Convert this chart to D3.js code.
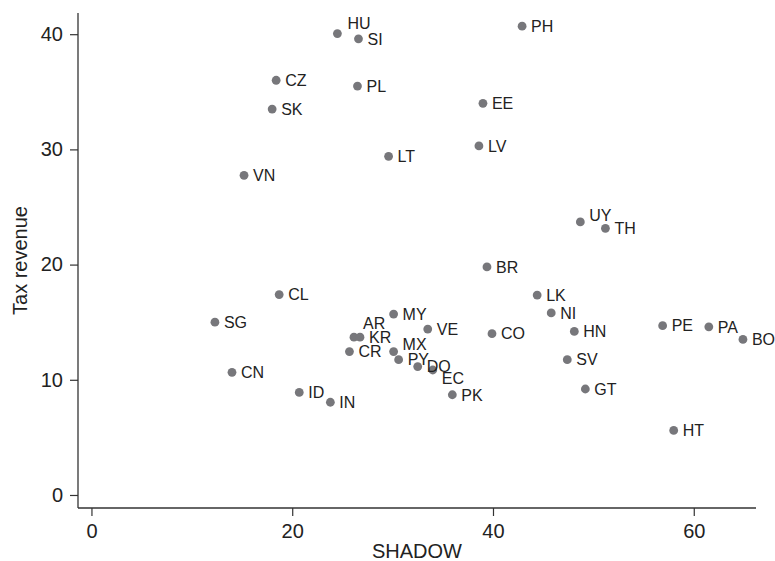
<!DOCTYPE html>
<html>
<head>
<meta charset="utf-8">
<script src="https://cdn.jsdelivr.net/npm/d3@7"></script>
<style>
  body { margin: 0; background: #fff; }
  svg { display: block; font-family: "Liberation Sans", Arial, sans-serif; }
</style>
</head>
<body>
<svg id="chart" width="775" height="561"></svg>
<script>
// country codes, shadow economy (% GDP) and tax revenue (% GDP)
const countries = ["HU","SI","CZ","PL","SK","VN","LT","PH","EE","LV","UY","TH","BR",
  "CL","SG","AR","KR","CR","CN","ID","IN","MY","VE","CO","MX","PY","DO","EC","PK",
  "LK","NI","HN","SV","GT","PE","PA","BO","HT"];
const shadow = [24.5,26.6,18.4,26.5,18.0,15.2,29.6,42.9,39.0,38.6,48.7,51.2,39.4,
  18.7,12.3,26.15,26.75,25.7,14.0,20.7,23.8,30.1,33.5,39.9,30.1,30.6,32.5,34.0,35.95,
  44.4,45.8,48.1,47.4,49.2,56.9,61.5,64.9,58.0];
const taxRevenue = [40.05,39.6,36.0,35.5,33.5,27.75,29.4,40.7,34.0,30.3,23.7,23.15,19.8,
  17.4,15.0,13.7,13.7,12.45,10.65,8.9,8.05,15.7,14.4,14.0,12.45,11.75,11.15,10.85,8.7,
  17.35,15.8,14.2,11.75,9.2,14.7,14.6,13.5,5.6];
const xTicks = [0, 20, 40, 60];
const yTicks = [0, 10, 20, 30, 40];

// label clock positions (default 3 o'clock)
const labelClock = { HU: 1, UY: 2, AR: 12, MX: 2, EC: 4 };
const clockOffset = {
  3: [9, 0], 2: [9, -7], 1: [10, -10], 12: [9, -14], 4: [9, 8]
};

const width = 775, height = 561;
const margin = { top: 13, right: 19, bottom: 53, left: 78 };

const svg = d3.select("#chart");

const x = d3.scaleLinear()
  .domain([-1.34, 66.2])
  .range([margin.left, width - margin.right]);

const y = d3.scaleLinear()
  .domain([-1.13, 41.84])
  .range([height - margin.bottom, margin.top]);

const data = countries.map((c, i) => ({ code: c, x: shadow[i], y: taxRevenue[i] }));

// x axis
const xAxis = svg.append("g")
  .attr("transform", `translate(0,${height - margin.bottom})`)
  .call(d3.axisBottom(x).tickValues(xTicks).tickSize(8).tickPadding(8).tickFormat(d3.format("d")));

// y axis
const yAxis = svg.append("g")
  .attr("transform", `translate(${margin.left},0)`)
  .call(d3.axisLeft(y).tickValues(yTicks).tickSize(8).tickPadding(7).tickFormat(d3.format("d")));

[xAxis, yAxis].forEach(a => {
  a.select(".domain").attr("stroke", "#333").attr("stroke-width", 1.3)
    .attr("d", a === xAxis
      ? `M${margin.left},0H${width - margin.right}`
      : `M0,${margin.top}V${height - margin.bottom}`);
  a.selectAll(".tick line").attr("stroke", "#333").attr("stroke-width", 1.2);
  a.selectAll(".tick text").attr("fill", "#222").attr("font-size", "20px");
});

// axis titles
svg.append("text")
  .attr("x", (margin.left + width - margin.right) / 2)
  .attr("y", 558)
  .attr("text-anchor", "middle")
  .attr("font-size", "20px")
  .attr("fill", "#222")
  .text("SHADOW");

svg.append("text")
  .attr("transform", `translate(27,${(margin.top + height - margin.bottom) / 2}) rotate(-90)`)
  .attr("text-anchor", "middle")
  .attr("font-size", "20px")
  .attr("fill", "#222")
  .text("Tax revenue");

// points
svg.append("g")
  .selectAll("circle")
  .data(data)
  .join("circle")
  .attr("cx", d => x(d.x))
  .attr("cy", d => y(d.y))
  .attr("r", 4.4)
  .attr("fill", "#77777b");

// labels
svg.append("g")
  .selectAll("text")
  .data(data)
  .join("text")
  .attr("x", d => x(d.x) + clockOffset[labelClock[d.code] || 3][0])
  .attr("y", d => y(d.y) + clockOffset[labelClock[d.code] || 3][1])
  .attr("dy", "0.36em")
  .attr("font-size", "16px")
  .attr("fill", "#222")
  .text(d => d.code);
</script>
</body>
</html>
